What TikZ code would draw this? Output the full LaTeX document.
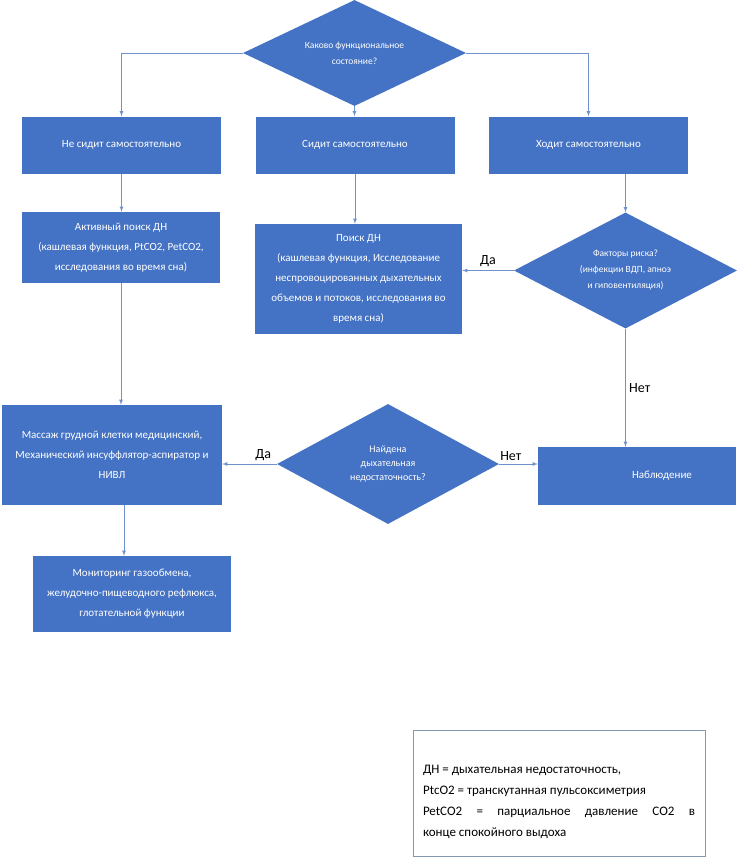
\documentclass[tikz,border=0pt]{standalone}
\usepackage{fontspec}
\setmainfont{Carlito}
\usetikzlibrary{arrows}
\usetikzlibrary{shapes.geometric,calc}
\definecolor{officeblue}{RGB}{68,114,196}
\definecolor{linkblue}{RGB}{112,146,204}
\definecolor{framegray}{RGB}{132,151,176}

\begin{document}
\begin{tikzpicture}[x=1pt,y=-1pt,
	block/.style={shape=rectangle, fill=officeblue, text=white, align=center, inner sep=2pt, font=\fontsize{11}{20}\selectfont},
	decision/.style={shape=diamond, aspect=2, fill=officeblue, text=white, align=center, inner sep=0pt, font=\fontsize{9.5}{16}\selectfont},
	link/.style={->, >=latex, draw=linkblue, line width=0.8pt},
	answer/.style={font=\fontsize{14}{16}\selectfont}]
	\useasboundingbox (0,0) rectangle (738,859);
		\draw (354.5,53) node[decision, minimum width=223, minimum height=106](state){Каково функциональное\\состояние?};
		\draw (121.5,145) node[block, minimum width=199, minimum height=57](nosit){Не сидит самостоятельно};
		\draw (355,145) node[block, minimum width=199, minimum height=57](sit){Сидит самостоятельно};
		\draw (588.5,145) node[block, minimum width=199, minimum height=57](walk){Ходит самостоятельно};
		\draw (121,247.5) node[block, minimum width=198, minimum height=71](active){Активный поиск ДН\\(кашлевая функция, PtCO2, PetCO2,\\исследования во время сна)};
		\draw (358.5,279) node[block, minimum width=207, minimum height=110](search){Поиск ДН\\(кашлевая функция, Исследование\\неспровоцированных дыхательных\\объемов и потоков, исследования во\\время сна)};
		\draw (625.5,270.5) node[decision, minimum width=223, minimum height=116](risk){Факторы риска?\\(инфекции ВДП, апноэ\\и гиповентиляция)};
		\draw (112,455) node[block, minimum width=220, minimum height=100](massage){Массаж грудной клетки медицинский,\\Механический инсуффлятор-аспиратор и\\НИВЛ};
		\draw (388,464) node[decision, minimum width=222, minimum height=120, font=\fontsize{10}{14}\selectfont](found){Найдена\\дыхательная\\недостаточность?};
		\draw (637,476) node[block, minimum width=198, minimum height=58](watch){\hspace*{50pt}Наблюдение};
		\draw (132,594) node[block, minimum width=198, minimum height=76](monitor){Мониторинг газообмена,\\желудочно-пищеводного рефлюкса,\\глотательной функции};
		\draw (559,793) node[draw=framegray, line width=0.6pt, text width=272, inner xsep=10, minimum height=126, align=justify, font=\fontsize{13}{21}\selectfont](legend){\rule{0pt}{26pt}ДН = дыхательная недостаточность,\\PtcO2 = транскутанная пульсоксиметрия\\PetCO2 = парциальное давление CO2 в\linebreak конце спокойного выдоха};
		\draw[link] (state.west) -| (nosit.north);
		\draw[link] (state.south) -- (state.south |- sit.north);
		\draw[link] (state.east) -| (walk.north);
		\draw[link] (nosit.south) -- (nosit.south |- active.north);
		\draw[link] (sit.south) -- (sit.south |- search.north);
		\draw[link] (walk.south -| risk.north) -- (risk.north);
		\draw[link] (risk.west) -- (risk.west -| search.east) node[midway, above, answer]{Да};
		\draw[link] (risk.south) -- (risk.south |- watch.north) node[midway, right, answer]{Нет};
		\draw[link] (active.south) -- (active.south |- massage.north);
		\draw[link] (found.west) -- (found.west -| massage.east) node[pos=0.25, above, answer]{Да};
		\draw[link] (found.east) -- (found.east -| watch.west) node[pos=0.3, above, answer]{Нет};
		\draw[link] ([xshift=12]massage.south) -- ([xshift=12]massage.south |- monitor.north);
	\end{tikzpicture}
\end{document}
